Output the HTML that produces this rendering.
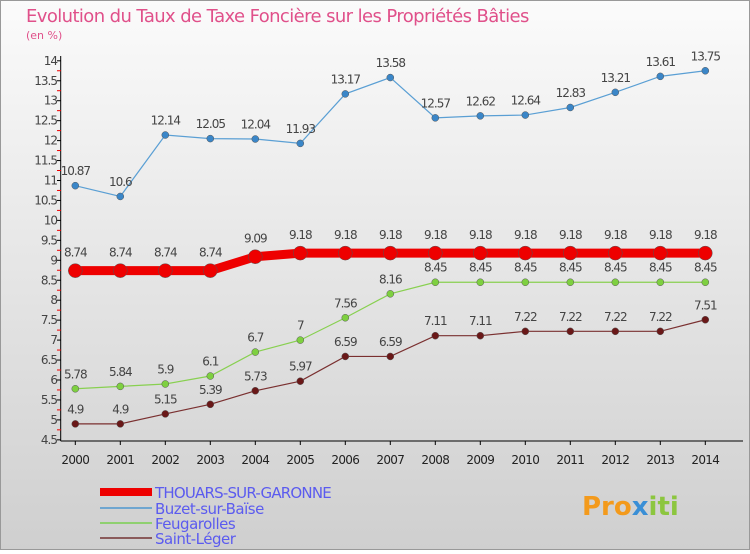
<!DOCTYPE html>
<html><head><meta charset="utf-8"><style>
body{margin:0;width:750px;height:550px;overflow:hidden;font-family:"DejaVu Sans","Liberation Sans",sans-serif}
</style></head><body>
<svg id="chart" width="750" height="550" xmlns="http://www.w3.org/2000/svg">
<defs><linearGradient id="bg" x1="0" y1="0" x2="0" y2="1"><stop offset="0" stop-color="#fbfbfb"/><stop offset="1" stop-color="#cfcfcf"/></linearGradient></defs>
<rect x="0" y="0" width="750" height="550" fill="url(#bg)"/>
<rect x="0.5" y="0.5" width="749" height="549" fill="none" stroke="#999"/>
<text x="26" y="22" font-size="18" fill="#e0508a" letter-spacing="-0.6">Evolution du Taux de Taxe Foncière sur les Propriétés Bâties</text>
<text x="26" y="39" font-size="11" fill="#e0508a">(en %)</text>
<g id="axes"></g><g id="series"></g>
<g font-size="15" fill="#5b5bef">
<rect x="100" y="488" width="52" height="8" fill="#ee0000"/>
<text x="155" y="498" fill="#5b5bef" letter-spacing="-0.8">THOUARS-SUR-GARONNE</text>
<rect x="100" y="507" width="52" height="2" fill="#6fa6d0"/>
<text x="155" y="514" fill="#5b5bef" letter-spacing="-0.5">Buzet-sur-Baïse</text>
<rect x="100" y="522" width="52" height="2" fill="#8fd070"/>
<text x="155" y="529" fill="#5b5bef" letter-spacing="-0.5">Feugarolles</text>
<rect x="100" y="537" width="52" height="2" fill="#8a5a5a"/>
<text x="155" y="544" fill="#5b5bef" letter-spacing="-0.5">Saint-Léger</text>
</g>
<text x="582" y="515" font-size="26" font-weight="bold" fill="#f39a1c">Pro<tspan fill="#3a8fd6">x</tspan><tspan fill="#8cc63f">iti</tspan></text>
</svg>
<script>
const years=[2000,2001,2002,2003,2004,2005,2006,2007,2008,2009,2010,2011,2012,2013,2014];
const thouars=[8.74,8.74,8.74,8.74,9.09,9.18,9.18,9.18,9.18,9.18,9.18,9.18,9.18,9.18,9.18];
const buzet=[10.87,10.6,12.14,12.05,12.04,11.93,13.17,13.58,12.57,12.62,12.64,12.83,13.21,13.61,13.75];
const feug=[5.78,5.84,5.9,6.1,6.7,7,7.56,8.16,8.45,8.45,8.45,8.45,8.45,8.45,8.45];
const leger=[4.9,4.9,5.15,5.39,5.73,5.97,6.59,6.59,7.11,7.11,7.22,7.22,7.22,7.22,7.51];
const yTicks=[4.5,5,5.5,6,6.5,7,7.5,8,8.5,9,9.5,10,10.5,11,11.5,12,12.5,13,13.5,14];
const NS="http://www.w3.org/2000/svg";
const xs=i=>75.3+i*45;
const ys=v=>60.8+(14-v)*39.9;
function mk(t,a,p){const e=document.createElementNS(NS,t);for(const k in a)e.setAttribute(k,a[k]);p.appendChild(e);return e;}
const ax=document.getElementById('axes');
let l=mk('line',{x1:60.7,y1:56,x2:60.7,y2:441,stroke:'#000'},ax);


l=mk('line',{x1:60.7,y1:441,x2:743,y2:441,stroke:'#000'},ax);


yTicks.forEach(v=>{const y=ys(v);
 mk('line',{x1:57,y1:y,x2:61,y2:y,stroke:'#000'},ax);
 if(v<14) mk('line',{x1:57,y1:y-10,x2:61,y2:y-10,stroke:'#e00'},ax);
 const t=mk('text',{x:57,y:y+4,'text-anchor':'end','font-size':12,fill:'#444','letter-spacing':'-1'},ax);
 
 
 t.textContent=v;});
years.forEach((yr,i)=>{const x=xs(i);
 mk('line',{x1:x,y1:441,x2:x,y2:445,stroke:'#000'},ax);
 const t=mk('text',{x:x,y:464,'text-anchor':'middle','font-size':12,fill:'#222','letter-spacing':'-0.7'},ax);
 
 
 t.textContent=yr;});
const sg=document.getElementById('series');
function draw(name,data,color,w,r,fill){
 const g=mk('g',{},sg);
 
 
 mk('polyline',{points:data.map((v,i)=>xs(i)+','+ys(v)).join(' '),fill:'none',stroke:color,'stroke-width':w},g);
 data.forEach((v,i)=>{const c=mk('circle',{cx:xs(i),cy:ys(v),r:r,fill:fill,stroke:'#555','stroke-width':0.5},g);
  
  
  const t=mk('text',{x:xs(i),y:ys(v)-(r+7),'text-anchor':'middle','font-size':12,fill:'#444','letter-spacing':'-1'},g);
  
  
  t.textContent=v;});
}
draw('series-buzet',buzet,'#5a9fd4',1.2,3.5,'#3a86c8');
draw('series-feugarolles',feug,'#88d050',1.2,3.5,'#7ed040');
draw('series-saint-leger',leger,'#7a3030',1.2,3.5,'#6a1818');
draw('series-thouars',thouars,'#ee0000',9,7,'#ee0000');
</script>
</body></html>
